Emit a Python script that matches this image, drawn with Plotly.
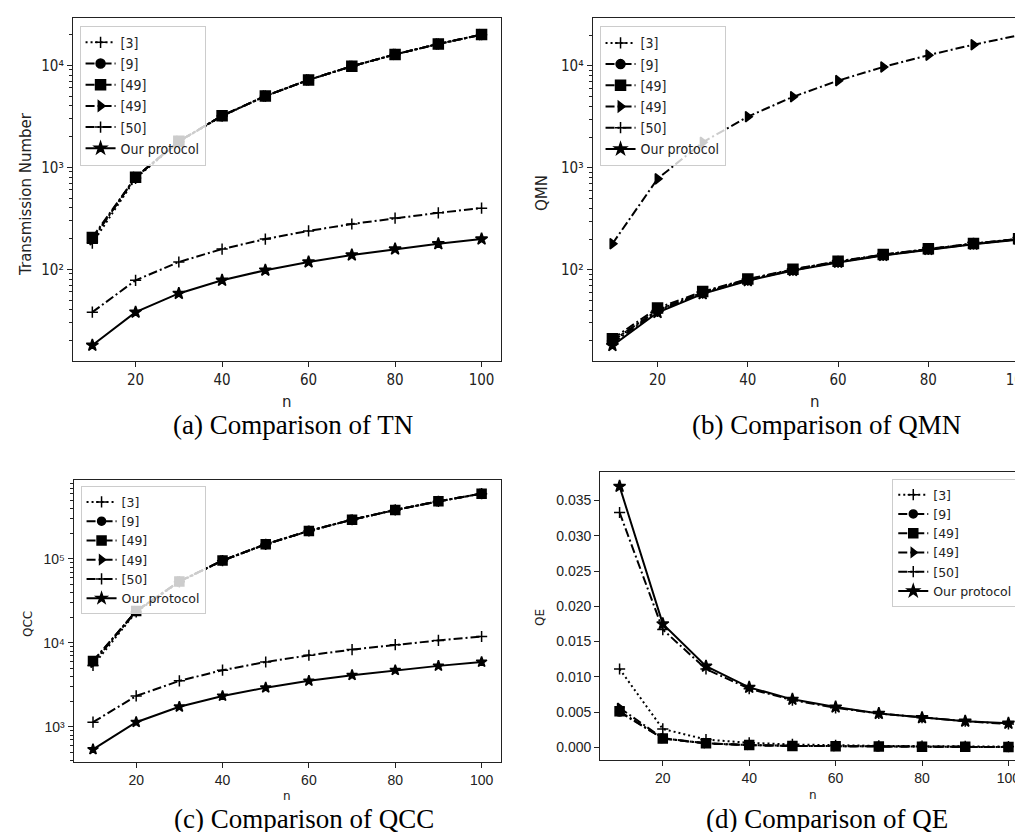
import plotly.graph_objects as go

W, H = 1023, 832

# ---------------- data ----------------
n = [10, 20, 30, 40, 50, 60, 70, 80, 90, 100]
series_labels = ["[3]", "[9]", "[49]", "[49]", "[50]", "Our protocol"]

# (a) Transmission Number
tn_ref3 = [180, 780, 1780, 3180, 4980, 7180, 9780, 12780, 16180, 19980]
tn_ref9 = [200, 800, 1800, 3200, 5000, 7200, 9800, 12800, 16200, 20000]
tn_ref49s = [205, 800, 1800, 3200, 5000, 7200, 9800, 12800, 16200, 20000]
tn_ref49t = [195, 800, 1800, 3200, 5000, 7200, 9800, 12800, 16200, 20000]
tn_ref50 = [38, 78, 118, 158, 198, 238, 278, 318, 358, 398]
tn_ours = [18, 38, 58, 78, 98, 118, 138, 158, 178, 198]

# (b) QMN
qmn_ref3 = [20, 40, 60, 80, 100, 120, 140, 160, 180, 200]
qmn_ref9 = [20, 40, 60, 80, 100, 120, 140, 160, 180, 200]
qmn_ref49s = [21, 42, 61, 81, 101, 121, 141, 161, 181, 201]
qmn_ref49t = [180, 780, 1780, 3180, 4980, 7180, 9780, 12780, 16180, 19980]
qmn_ref50 = [19, 39, 59, 79, 99, 119, 139, 159, 179, 199]
qmn_ours = [18, 38, 58, 78, 98, 118, 138, 158, 178, 198]

# (c) QCC
qcc_ref3 = [5400, 23400, 53400, 95400, 149400, 215400, 293400, 383400, 485400, 599400]
qcc_ref9 = [6000, 24000, 54000, 96000, 150000, 216000, 294000, 384000, 486000, 600000]
qcc_ref49s = [6100, 24000, 54000, 96000, 150000, 216000, 294000, 384000, 486000, 600000]
qcc_ref49t = [5800, 24000, 54000, 96000, 150000, 216000, 294000, 384000, 486000, 600000]
qcc_ref50 = [1140, 2340, 3540, 4740, 5940, 7140, 8340, 9540, 10740, 11940]
qcc_ours = [540, 1140, 1740, 2340, 2940, 3540, 4140, 4740, 5340, 5940]

# (d) QE
qe_ref3 = [0.0111, 0.0026, 0.0011, 0.00063, 0.0004, 0.00028, 0.0002, 0.00016, 0.00012, 0.0001]
qe_ref9 = [0.0050, 0.00125, 0.00056, 0.00031, 0.0002, 0.00014, 0.0001, 0.00008, 0.00006, 0.00005]
qe_ref49s = [0.0051, 0.00125, 0.00056, 0.00031, 0.0002, 0.00014, 0.0001, 0.00008, 0.00006, 0.00005]
qe_ref49t = [0.0056, 0.00128, 0.00056, 0.00031, 0.0002, 0.00014, 0.0001, 0.00008, 0.00006, 0.00005]
qe_ref50 = [0.0333, 0.0167, 0.0111, 0.0083, 0.0067, 0.0056, 0.0048, 0.0042, 0.0037, 0.0033]
qe_ours = [0.0370, 0.0175, 0.0115, 0.0085, 0.0068, 0.0057, 0.0048, 0.0042, 0.0037, 0.0034]

x_ticks = [20, 40, 60, 80, 100]
log_ticks_ab = [1e2, 1e3, 1e4]
log_text_ab = ["10²", "10³", "10⁴"]
log_ticks_c = [1e3, 1e4, 1e5]
log_text_c = ["10³", "10⁴", "10⁵"]
captions = ["(a) Comparison of TN", "(b) Comparison of QMN",
            "(c) Comparison of QCC", "(d) Comparison of QE"]
y_titles = ["Transmission Number", "QMN", "QCC", "QE"]

# ---------------- styles ----------------
DOT = "2px,3px"
DASHDOT = "9px,3px,2px,3px"
line_dash = [DOT, DASHDOT, DASHDOT, DASHDOT, DASHDOT, "solid"]
symbols = ["cross-thin", "circle", "square", "triangle-right", "cross-thin", "star"]

NARROW = "DejaVu Sans Condensed, Liberation Sans, sans-serif"
REG = "Liberation Sans, Arial, sans-serif"
DJV = "DejaVu Sans, sans-serif"
SERIF = "Liberation Serif, Times New Roman, serif"


def px(x):
    return x / W


def py(y):
    return 1 - y / H


panels = [
    dict(data=[tn_ref3, tn_ref9, tn_ref49s, tn_ref49t, tn_ref50, tn_ours],
         xs="x", ys="y", leg="legend", msize=[8, 9, 10, 9, 8, 9]),
    dict(data=[qmn_ref3, qmn_ref9, qmn_ref49s, qmn_ref49t, qmn_ref50, qmn_ours],
         xs="x2", ys="y2", leg="legend2", msize=[8, 9, 10, 9, 8, 9]),
    dict(data=[qcc_ref3, qcc_ref9, qcc_ref49s, qcc_ref49t, qcc_ref50, qcc_ours],
         xs="x3", ys="y3", leg="legend3", msize=[8, 8, 9, 8, 8, 8]),
    dict(data=[qe_ref3, qe_ref9, qe_ref49s, qe_ref49t, qe_ref50, qe_ours],
         xs="x4", ys="y4", leg="legend4", msize=[8, 8, 9, 8, 8, 9]),
]

fig = go.Figure()
for p in panels:
    for i, (lab, vals) in enumerate(zip(series_labels, p["data"])):
        fig.add_trace(go.Scatter(
            x=n, y=vals, name=lab, mode="lines+markers",
            xaxis=p["xs"], yaxis=p["ys"], legend=p["leg"],
            line=dict(color="black", width=2, dash=line_dash[i]),
            marker=dict(symbol=symbols[i], size=p["msize"][i], color="black",
                        line=dict(color="black", width=1.5)),
        ))

# ---------------- axes ----------------
def minor_vals(lo, hi):
    out = []
    for e in range(lo, hi):
        for k in range(2, 10):
            out.append(k * 10 ** e)
    return out


axis_common = dict(showline=True, linecolor="#222", linewidth=1, mirror=True,
                   ticks="outside", ticklen=5, tickwidth=1, tickcolor="#222",
                   showgrid=False, zeroline=False, ticklabeloverflow="allow")

dom_a_x = [px(65), px(494)]
dom_b_x = [px(585.7), 1.0]
dom_c_x = [px(65.7), px(494)]
dom_d_x = [px(593.3), px(1022.3)]
dom_ab_y = [py(353), py(10)]
dom_c_y = [py(754), py(471.7)]
dom_d_y = [py(751.7), py(464.3)]

tick_ab = dict(family=NARROW, size=15, color="#222")
tick_c = dict(family=REG, size=14, color="#222")
tick_d = dict(family=REG, size=14, color="#222")

fig.update_layout(
    xaxis=dict(domain=dom_a_x, anchor="y", range=[5.5, 104.5], tickvals=x_ticks,
               tickfont=tick_ab, **axis_common),
    yaxis=dict(domain=dom_ab_y, anchor="x", type="log", range=[1.101, 4.464],
               tickvals=log_ticks_ab, ticktext=log_text_ab,
               minor=dict(tickmode="array", tickvals=minor_vals(1, 5), ticks="outside",
                          ticklen=3, tickcolor="#222", tickwidth=1),
               tickfont=tick_ab, **axis_common),
    xaxis2=dict(domain=dom_b_x, anchor="y2", range=[5.6, 102.3], tickvals=x_ticks,
                tickfont=tick_ab, **axis_common),
    yaxis2=dict(domain=dom_ab_y, anchor="x2", type="log", range=[1.104, 4.471],
                tickvals=log_ticks_ab, ticktext=log_text_ab,
                minor=dict(tickmode="array", tickvals=minor_vals(1, 5), ticks="outside",
                           ticklen=3, tickcolor="#222", tickwidth=1),
                tickfont=tick_ab,
                **{**axis_common, "mirror": False}),
    xaxis3=dict(domain=dom_c_x, anchor="y3", range=[5.5, 104.5], tickvals=x_ticks,
                tickfont=tick_c, **axis_common),
    yaxis3=dict(domain=dom_c_y, anchor="x3", type="log", range=[2.583, 5.944],
                tickvals=log_ticks_c, ticktext=log_text_c,
                minor=dict(tickmode="array", tickvals=minor_vals(2, 6), ticks="outside",
                           ticklen=3, tickcolor="#222", tickwidth=1),
                tickfont=tick_c, **axis_common),
    xaxis4=dict(domain=dom_d_x, anchor="y4", range=[5.5, 104.6], tickvals=x_ticks,
                tickfont=tick_d, **axis_common),
    yaxis4=dict(domain=dom_d_y, anchor="x4", range=[-0.00176, 0.0390],
                tick0=0, dtick=0.005, tickformat=".3f",
                tickfont=tick_d, **axis_common),
)

# ---------------- legends ----------------
leg_common = dict(bgcolor="rgba(255,255,255,0.8)", bordercolor="#cccccc", borderwidth=1,
                  tracegroupgap=0, itemclick=False, xanchor="left", yanchor="top")
fig.update_layout(
    legend=dict(x=px(71.7), y=py(17.7),
                font=dict(family=NARROW, size=14, color="#222"), **leg_common),
    legend2=dict(x=px(592.7), y=py(18.3),
                 font=dict(family=NARROW, size=14, color="#222"), **leg_common),
    legend3=dict(x=px(72.7), y=py(478.3),
                 font=dict(family=DJV, size=12.5, color="#222"), **leg_common),
    legend4=dict(x=px(886), y=py(471),
                 font=dict(family=DJV, size=12.5, color="#222"), **leg_common),
)

# ---------------- titles & captions ----------------
ann = []
ytitle_pos = [(18, 186, 15), (535, 185, 15), (20, 616, 12), (533, 609, 12)]
for t, (xx, yy, fs) in zip(y_titles, ytitle_pos):
    ann.append(dict(text=t, x=px(xx), y=py(yy), xref="paper", yref="paper",
                    showarrow=False, textangle=-90, xanchor="center", yanchor="middle",
                    font=dict(family=DJV, size=fs, color="#222")))
xtitle_pos = [(280, 394, 15), (809, 394, 15), (280, 788, 12), (807, 787, 12)]
for xx, yy, fs in xtitle_pos:
    ann.append(dict(text="n", x=px(xx), y=py(yy), xref="paper", yref="paper",
                    showarrow=False, xanchor="center", yanchor="middle",
                    font=dict(family=DJV, size=fs, color="#222")))
cap_pos = [(286, 417), (820, 417), (297, 811), (821, 811)]
for t, (xx, yy) in zip(captions, cap_pos):
    ann.append(dict(text=t, x=px(xx), y=py(yy), xref="paper", yref="paper",
                    showarrow=False, xanchor="center", yanchor="middle",
                    font=dict(family=SERIF, size=27, color="black")))

fig.update_layout(
    annotations=ann,
    width=W, height=H,
    margin=dict(l=0, r=0, t=0, b=0),
    paper_bgcolor="white", plot_bgcolor="white",
    showlegend=True,
)

fig.write_html("out.html", config={"displayModeBar": False})
